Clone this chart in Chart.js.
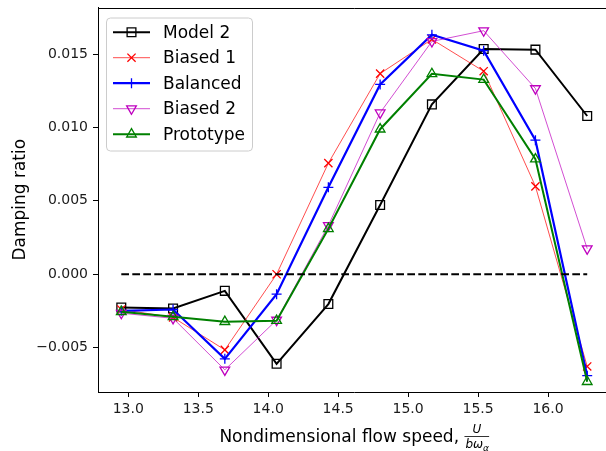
<!DOCTYPE html>
<html>
<head>
<meta charset="utf-8">
<script src="https://cdn.jsdelivr.net/npm/chart.js@4/dist/chart.umd.min.js"></script>
<style>
    html, body { margin: 0; padding: 0; background: #fff; overflow: hidden; }
    #wrap { width: 606px; height: 451px; overflow: hidden; }
</style>
</head>
<body>
<div id="wrap"><canvas id="damping" width="618" height="451"></canvas></div>
<script>
var speeds = [12.95, 13.32, 13.69, 14.06, 14.43, 14.80, 15.17, 15.54, 15.91, 16.28];
var model2 = [-0.00226, -0.00233, -0.00113, -0.00610, -0.00203, 0.00472, 0.01157, 0.01534, 0.01530, 0.01078];
var biased1 = [-0.00240, -0.00294, -0.00515, 0.00000, 0.00757, 0.01367, 0.01600, 0.01383, 0.00599, -0.00628];
var balanced = [-0.00249, -0.00240, -0.00576, -0.00136, 0.00592, 0.01293, 0.01631, 0.01523, 0.00913, -0.00691];
var biased2 = [-0.00265, -0.00300, -0.00651, -0.00312, 0.00332, 0.01100, 0.01586, 0.01659, 0.01265, 0.00174];
var prototype = [-0.00255, -0.00290, -0.00323, -0.00316, 0.00310, 0.00988, 0.01365, 0.01326, 0.00784, -0.00732];
var zeroLine = [0, 0];
var xTicks = [13.0, 13.5, 14.0, 14.5, 15.0, 15.5, 16.0];
var yTicks = [-0.005, 0.000, 0.005, 0.010, 0.015];

var FONT = 'DejaVu Sans';

function toPoints(values) {
    return values.map(function (v, i) { return {x: speeds[i], y: v}; });
}

function makeSet(label, values, color, width, style, radius, rotation, order) {
    return {
        label: label,
        data: toPoints(values),
        borderColor: color,
        borderWidth: width,
        pointStyle: style,
        pointRadius: radius,
        pointRotation: rotation,
        pointBorderColor: color,
        pointBackgroundColor: 'rgba(0,0,0,0)',
        pointBorderWidth: 1.3,
        tension: 0,
        fill: false,
        order: order
    };
}

var datasets = [
    makeSet('Model 2', model2, '#000000', 2, 'rect', 6.2, 0, 4),
    makeSet('Biased 1', biased1, '#ff0000', 0.7, 'crossRot', 5.8, 0, 3),
    makeSet('Balanced', balanced, '#0000ff', 2.2, 'cross', 5, 0, 2),
    makeSet('Biased 2', biased2, '#bf00bf', 0.7, 'triangle', 5.6, 180, 1),
    makeSet('Prototype', prototype, '#008000', 2, 'triangle', 5.6, 0, 0),
    {
        label: '',
        data: [{x: speeds[0], y: zeroLine[0]}, {x: speeds[speeds.length - 1], y: zeroLine[1]}],
        borderColor: '#000000',
        borderWidth: 2,
        borderDash: [7.7, 3.3],
        pointRadius: 0,
        order: -1
    }
];

// frame line on top (matplotlib spine)
var topSpine = {
    id: 'topSpine',
    afterDraw: function (chart) {
        var ctx = chart.ctx, a = chart.chartArea;
        ctx.save();
        ctx.strokeStyle = '#000';
        ctx.lineWidth = 1;
        ctx.beginPath();
        ctx.moveTo(a.left, Math.round(a.top) + 0.5);
        ctx.lineTo(a.right, Math.round(a.top) + 0.5);
        ctx.stroke();
        ctx.restore();
    }
};

var legendBox = {
    id: 'legendBox',
    afterDraw: function (chart) {
        var ctx = chart.ctx, a = chart.chartArea;
        var x0 = a.left + 8.5, y0 = a.top + 10.5;
        ctx.save();
        ctx.fillStyle = 'rgba(255,255,255,0.8)';
        ctx.strokeStyle = '#cccccc';
        ctx.lineWidth = 1;
        ctx.beginPath();
        ctx.roundRect(x0, y0, 146, 133, 4);
        ctx.fill();
        ctx.stroke();

        var rowY = a.top + 24.7;
        chart.data.datasets.forEach(function (ds) {
            if (!ds.label) return;
            ctx.strokeStyle = ds.borderColor;
            ctx.lineWidth = ds.borderWidth;
            ctx.beginPath();
            ctx.moveTo(113, rowY);
            ctx.lineTo(150, rowY);
            ctx.stroke();
            ctx.fillStyle = 'rgba(0,0,0,0)';
            ctx.lineWidth = ds.pointBorderWidth;
            Chart.helpers.drawPoint(ctx, {
                pointStyle: ds.pointStyle,
                radius: ds.pointRadius,
                rotation: ds.pointRotation,
                borderWidth: ds.pointBorderWidth
            }, 131.5, rowY);
            ctx.fillStyle = '#000';
            ctx.font = '17px "' + FONT + '"';
            ctx.textBaseline = 'middle';
            ctx.fillText(ds.label, 163, rowY + 1);
            rowY += 25.5;
        });
        ctx.restore();
    }
};

var xLabel = {
    id: 'xLabel',
    afterDraw: function (chart) {
        var ctx = chart.ctx, a = chart.chartArea;
        var main = 'Nondimensional flow speed, ';
        ctx.save();
        ctx.fillStyle = '#000';
        ctx.font = '17px "' + FONT + '"';
        var wMain = ctx.measureText(main).width;
        ctx.font = 'italic 12px "' + FONT + '"';
        var wDen = ctx.measureText('bω').width + 7;
        var x = (a.left + a.right) / 2 - (wMain + wDen) / 2;
        var base = 442;
        ctx.textBaseline = 'alphabetic';
        ctx.font = '17px "' + FONT + '"';
        ctx.fillText(main, x, base);
        var fx = x + wMain;
        var lineY = base - 6;
        ctx.fillRect(fx, lineY, wDen, 0.8);
        ctx.font = 'italic 12px "' + FONT + '"';
        ctx.textAlign = 'center';
        ctx.fillText('U', fx + wDen / 2, lineY - 3);
        ctx.textAlign = 'left';
        var wb = ctx.measureText('bω').width;
        ctx.fillText('bω', fx + 1, lineY + 12);
        ctx.font = 'italic 9px "' + FONT + '"';
        ctx.fillText('α', fx + 1 + wb, lineY + 15);
        ctx.restore();
    }
};

function fmtY(v) {
    var s = Math.abs(v).toFixed(3);
    return v < -1e-9 ? '\u2212' + s : s;
}

new Chart(document.getElementById('damping'), {
    type: 'line',
    data: {datasets: datasets},
    plugins: [topSpine, legendBox, xLabel],
    options: {
        responsive: false,
        animation: false,
        layout: {padding: {top: 6, right: 1, left: 0, bottom: 0}},
        plugins: {
            legend: {display: false},
            tooltip: {enabled: false}
        },
        scales: {
            x: {
                type: 'linear',
                min: 12.7835,
                max: 16.4465,
                afterBuildTicks: function (scale) {
                    scale.ticks = xTicks.map(function (v) { return {value: v}; });
                },
                afterFit: function (scale) {
                    scale.height = 59;
                    scale.paddingLeft = 0;
                    scale.paddingRight = 0;
                },
                ticks: {
                    autoSkip: false,
                    maxRotation: 0,
                    padding: 4,
                    color: '#1a1a1a',
                    font: {family: FONT, size: 14},
                    callback: function (v) { return Number(v).toFixed(1); }
                },
                grid: {drawOnChartArea: false, drawTicks: true, tickLength: 5, color: '#000', lineWidth: 1},
                border: {color: '#000', width: 1}
            },
            y: {
                type: 'linear',
                min: -0.00802,
                max: 0.01817,
                afterBuildTicks: function (scale) {
                    scale.ticks = yTicks.map(function (v) { return {value: v}; });
                },
                afterFit: function (scale) {
                    scale.width = 98;
                    scale.paddingTop = 0;
                    scale.paddingBottom = 0;
                },
                ticks: {
                    autoSkip: false,
                    padding: 5,
                    color: '#1a1a1a',
                    font: {family: FONT, size: 14},
                    callback: function (v) { return fmtY(v); }
                },
                title: {
                    display: true,
                    text: 'Damping ratio',
                    color: '#000',
                    font: {family: FONT, size: 17},
                    padding: {top: 10, bottom: 0}
                },
                grid: {drawOnChartArea: false, drawTicks: true, tickLength: 5, color: '#000', lineWidth: 1},
                border: {color: '#000', width: 1}
            }
        }
    }
});
</script>
</body>
</html>
